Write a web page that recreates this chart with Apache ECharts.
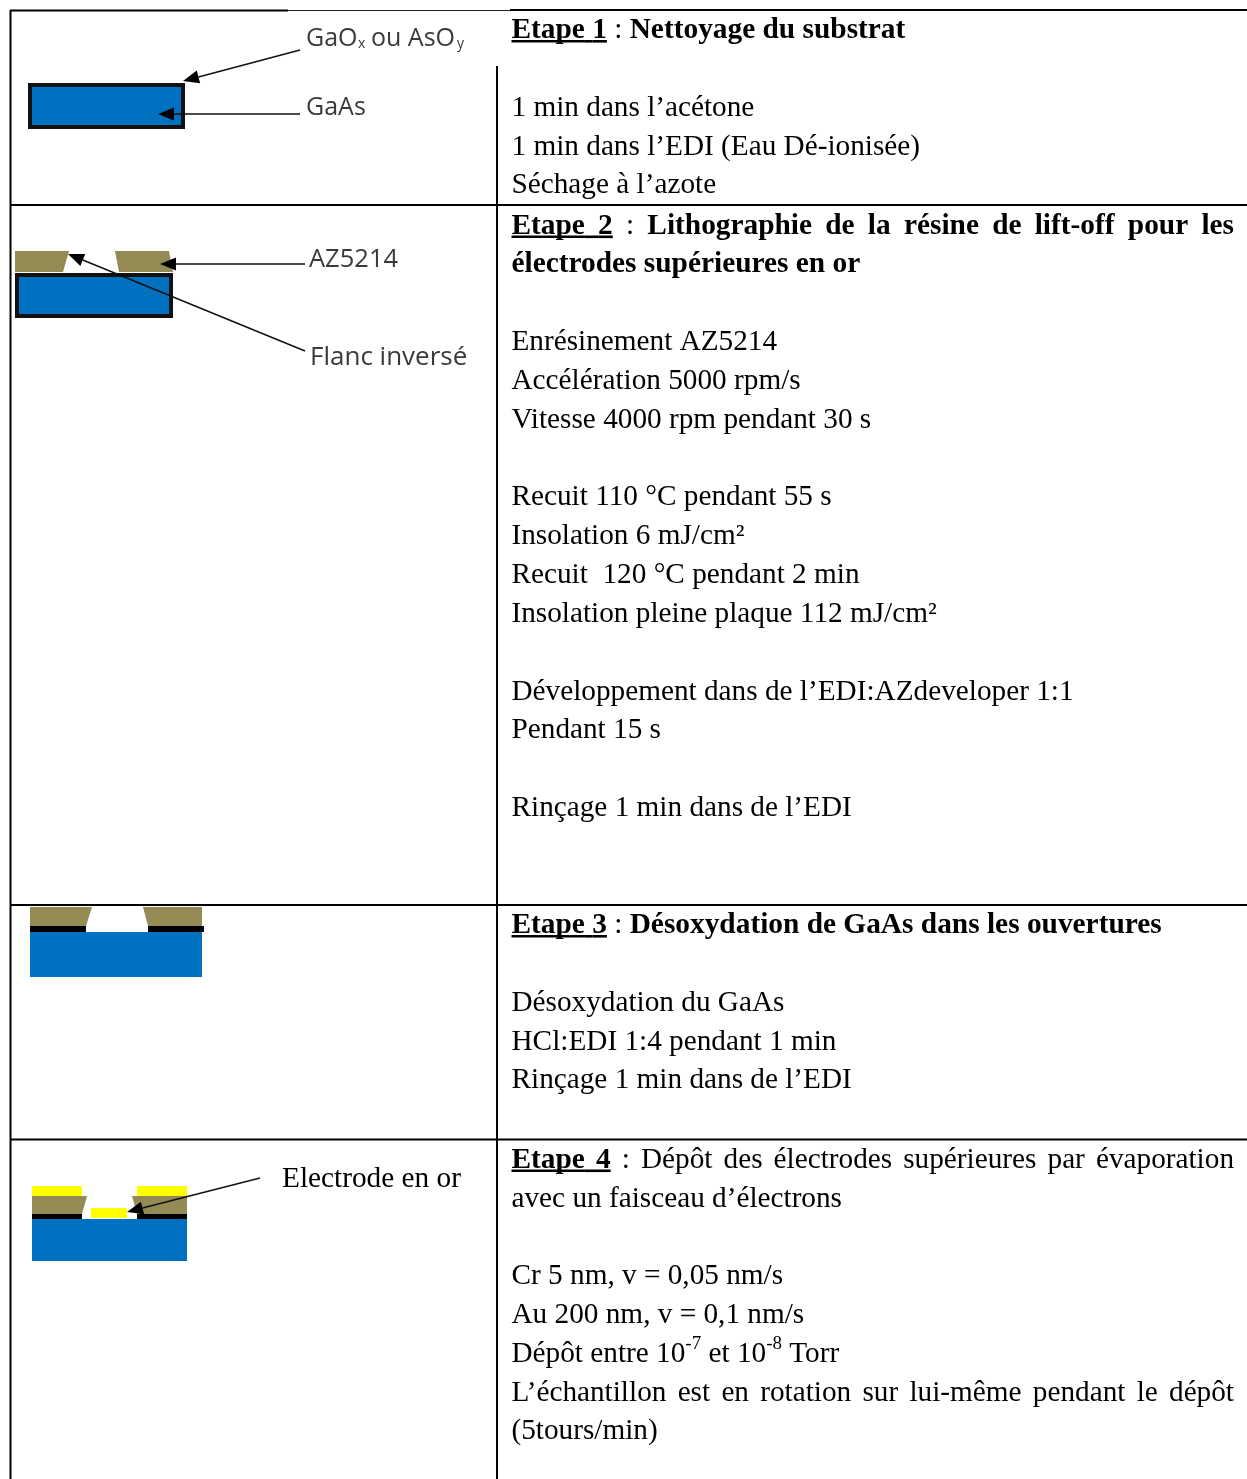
<!DOCTYPE html>
<html><head><meta charset="utf-8">
<style>html,body{margin:0;padding:0;background:#fff}#c{width:1247px;height:1479px}</style>
<script src="https://cdn.jsdelivr.net/npm/echarts@6/dist/echarts.min.js"></script>
</head><body><div id="c"></div>
<script>
// Text content: each line is a list of runs [text, kind]; kind u=bold underlined, b=bold, n=normal, s=superscript
const step1Lines = [
  [["Etape 1","u"],[" : ","n"],["Nettoyage du substrat","b"]],
  null,
  [["1 min dans l’acétone","n"]],
  [["1 min dans l’EDI (Eau Dé-ionisée)","n"]],
  [["Séchage à l’azote","n"]]
];
const step2Lines = [
  [["Etape 2","u"],[" : ","n"],["Lithographie de la résine de lift-off pour les","b"]],
  [["électrodes supérieures en or","b"]],
  null,
  [["Enrésinement AZ5214","n"]],
  [["Accélération 5000 rpm/s","n"]],
  [["Vitesse 4000 rpm pendant 30 s","n"]],
  null,
  [["Recuit 110 °C pendant 55 s","n"]],
  [["Insolation 6 mJ/cm²","n"]],
  [["Recuit  120 °C pendant 2 min","n"]],
  [["Insolation pleine plaque 112 mJ/cm²","n"]],
  null,
  [["Développement dans de l’EDI:AZdeveloper 1:1","n"]],
  [["Pendant 15 s","n"]],
  null,
  [["Rinçage 1 min dans de l’EDI","n"]]
];
const step3Lines = [
  [["Etape 3","u"],[" : ","n"],["Désoxydation de GaAs dans les ouvertures","b"]],
  null,
  [["Désoxydation du GaAs","n"]],
  [["HCl:EDI 1:4 pendant 1 min","n"]],
  [["Rinçage 1 min dans de l’EDI","n"]]
];
const step4Lines = [
  [["Etape 4","u"],[" : Dépôt des électrodes supérieures par évaporation","n"]],
  [["avec un faisceau d’électrons","n"]],
  null,
  [["Cr 5 nm, v = 0,05 nm/s","n"]],
  [["Au 200 nm, v = 0,1 nm/s","n"]],
  [["Dépôt entre 10","n"],["-7","s"],[" et 10","n"],["-8","s"],[" Torr","n"]],
  [["L’échantillon est en rotation sur lui-même pendant le dépôt","n"]],
  [["(5tours/min)","n"]]
];
const justifiedLines = [step2Lines[0], step4Lines[0], step4Lines[6]];
const blockLayout = [[step1Lines,37],[step2Lines,232.5],[step3Lines,932],[step4Lines,1166.5]];

const SERIF='"Liberation Serif","Times New Roman",serif', SANS='"Open Sans","Noto Sans",sans-serif';
const TXT=29.25, BOLD=29.36, PITCH=38.82, LEFT=511.5, RIGHT=1234, RAISE=21;
const BLUE='#0070c0', OLIVE='#948a54', YEL='#ffff00', INK='#000';
const g=[];
const cv=document.createElement('canvas').getContext('2d');
function fontOf(k){
  if(k==='u'||k==='b')return 'bold '+BOLD+'px '+SERIF;
  return (k==='s'?TXT*0.65:TXT)+'px '+SERIF;
}
function widthOf(t,k){cv.font=fontOf(k);return cv.measureText(t).width;}
function text(x,y,t,font,fill){g.push({type:'text',silent:true,x:x,y:y,style:{text:t,font:font,fill:fill||'#000',textAlign:'left'}});}
function rect(x,y,w,h,fill){g.push({type:'rect',silent:true,shape:{x:x,y:y,width:w,height:h},style:{fill:fill}});}
function line(x1,y1,x2,y2,w,c){g.push({type:'line',silent:true,shape:{x1:x1,y1:y1,x2:x2,y2:y2},style:{stroke:c||'#000',lineWidth:w}});}
function poly(p,fill){g.push({type:'polygon',silent:true,shape:{points:p},style:{fill:fill}});}
function arrow(x1,y1,x2,y2,c){
  const a=Math.atan2(y2-y1,x2-x1),L=16,W=6.5,bx=x2-L*Math.cos(a),by=y2-L*Math.sin(a);
  line(x1,y1,bx,by,1.5,c||'#111');
  poly([[x2,y2],[bx-W*Math.sin(a),by+W*Math.cos(a)],[bx+W*Math.sin(a),by-W*Math.cos(a)]],'#000');
}
function drawLine(runs,y){
  const toks=[];
  runs.forEach(([t,k])=>t.split(/( )/).forEach(w=>{if(w!=='')toks.push([w,k]);}));
  const total=toks.reduce((s,[t,k])=>s+widthOf(t,k),0);
  const spaces=toks.filter(([t])=>t===' ').length;
  const extra=justifiedLines.includes(runs)&&spaces?(RIGHT-LEFT-total)/spaces:0;
  let x=LEFT;
  toks.forEach(([t,k])=>{
    const w=widthOf(t,k);
    if(t!==' ')text(x,k==='s'?y-RAISE-5:y-RAISE,t,fontOf(k));
    if(k==='u')line(x,y+4.3,x+w+(t===' '?extra:0),y+4.3,2.6);
    x+=w+(t===' '?extra:0);
  });
}
blockLayout.forEach(([lines,y0])=>lines.forEach((l,i)=>{if(l)drawLine(l,y0+i*PITCH);}));

// table rules
line(10,10.5,288,10.5,2); line(288,10.5,510,10.5,1,'#222'); line(510,10,1247,10,2);
line(10.5,10,10.5,1479,2); line(497,66,497,1479,2);
[205,905,1139.5].forEach(y=>line(10,y,1247,y,2));

// sans labels
const LABC='#3a3a3a', sans=s=>s+'px '+SANS;
text(306,26,'GaO',sans(25),LABC); text(358,37,'x',sans(14),LABC);
text(371,26,'ou AsO',sans(25),LABC); text(457,37,'y',sans(14),LABC);
text(306,95,'GaAs',sans(25),LABC);
text(309,247,'AZ5214',sans(25.5),LABC);
text(310,345,'Flanc inversé',sans(26),LABC);
text(282,1165,'Electrode en or','29.3px '+SERIF);

// diagram 1
rect(28,83,157,46,'#111'); rect(32,87,149,38,BLUE);
arrow(300,50,183,81); arrow(300,114,158,114);
// diagram 2
poly([[15,251],[69,251],[63,272],[15,272]],OLIVE);
poly([[115,251],[169,251],[173,272],[119,272]],OLIVE);
rect(15,273,158,45,'#111'); rect(19,277,150,37,BLUE);
arrow(305,264,160,264); arrow(305,351,68,254);
// diagram 3
poly([[30,907],[92,907],[86,926],[30,926]],OLIVE);
poly([[143,907],[202,907],[202,926],[148,926]],OLIVE);
rect(30,926,56,6,'#000'); rect(148,926,56,6,'#000');
rect(30,932,172,45,BLUE);
// diagram 4
rect(32,1186,50,10,YEL); rect(137,1186,50,10,YEL);
poly([[32,1196],[87,1196],[82,1214],[32,1214]],OLIVE);
poly([[132,1196],[187,1196],[187,1214],[137,1214]],OLIVE);
rect(32,1214,50,6,'#000'); rect(137,1214,50,6,'#000');
rect(32,1219,155,42,BLUE);
rect(91,1208,36,10,YEL);
arrow(260,1178,127,1212);

echarts.init(document.getElementById('c'),null,{renderer:'canvas'}).setOption({animation:false,backgroundColor:'#fff',graphic:{elements:g}});
</script></body></html>
